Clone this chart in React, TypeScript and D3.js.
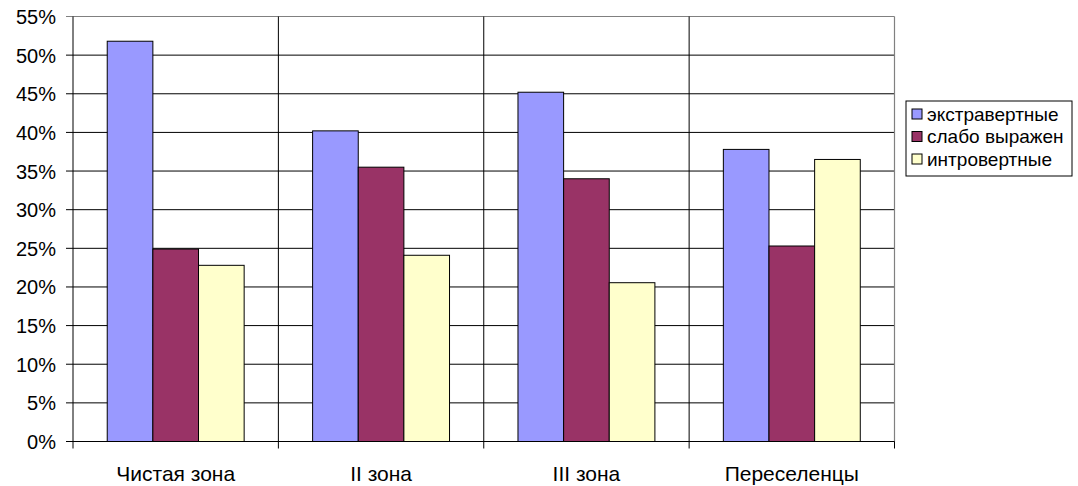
import React from "react";
import * as d3 from "d3";

const categories = ["Чистая зона", "II зона", "III зона", "Переселенцы"];
const seriesNames = ["экстравертные", "слабо выражен", "интровертные"];
const seriesColors = ["#9999FF", "#993366", "#FFFFCC"];
const extraverts = [51.8, 40.2, 45.2, 37.8];
const weak = [24.9, 35.5, 34.0, 25.3];
const introverts = [22.8, 24.1, 20.55, 36.5];
const yTicks = [0, 5, 10, 15, 20, 25, 30, 35, 40, 45, 50, 55];

const W = 1078;
const H = 486;
const left = 73;
const right = 894.5;
const top = 16.5;
const bottom = 441.5;

export default function App() {
  const series = [extraverts, weak, introverts];
  const x = d3.scaleBand<string>().domain(categories).range([left, right]).paddingInner(0).paddingOuter(0);
  const y = d3.scaleLinear().domain([0, 55]).range([bottom, top]);
  const bw = x.bandwidth() / 4.5;
  const font = "'Liberation Sans', Arial, sans-serif";

  return (
    <svg width={W} height={H} style={{ position: "absolute", left: 0, top: 0, background: "#fff" }}>
      <rect x={0} y={0} width={W} height={H} fill="#fff" />
      {yTicks.map((t) => (
        <line key={"g" + t} x1={left - 7} x2={right} y1={y(t)} y2={y(t)} stroke={t === 55 ? "#808080" : "#000"} strokeWidth={1} />
      ))}
      {categories.map((c, i) =>
        i > 0 ? (
          <line key={"v" + c} x1={x(c)!} x2={x(c)!} y1={top} y2={bottom + 7} stroke="#000" strokeWidth={1} />
        ) : null
      )}
      <line x1={left} x2={left} y1={top} y2={bottom + 7} stroke="#000" strokeWidth={1} />
      <line x1={right} x2={right} y1={top} y2={bottom} stroke="#808080" strokeWidth={1.2} />
      <line x1={right} x2={right} y1={bottom} y2={bottom + 7} stroke="#000" strokeWidth={1} />
      {categories.map((c, i) =>
        series.map((s, j) => {
          const bx = x(c)! + bw * 0.75 + j * bw;
          return (
            <rect
              key={c + j}
              x={bx}
              y={y(s[i])}
              width={bw}
              height={bottom - y(s[i])}
              fill={seriesColors[j]}
              stroke="#000"
              strokeWidth={1}
            />
          );
        })
      )}
      <line x1={left - 7} x2={right} y1={bottom} y2={bottom} stroke="#000" strokeWidth={1} />
      {yTicks.map((t) => (
        <text key={"yl" + t} x={56} y={y(t) + 7.5} textAnchor="end" fontFamily={font} fontSize={20} fill="#000">
          {t + "%"}
        </text>
      ))}
      {categories.map((c) => (
        <text key={"xl" + c} x={x(c)! + x.bandwidth() / 2} y={481} textAnchor="middle" fontFamily={font} fontSize={21} fill="#000">
          {c}
        </text>
      ))}
      <rect x={906} y={101} width={166} height={75} fill="#fff" stroke="#000" strokeWidth={1} />
      {seriesNames.map((n, j) => (
        <g key={n}>
          <rect x={912} y={109 + j * 22.5} width={10} height={10} fill={seriesColors[j]} stroke="#000" strokeWidth={1} />
          <text x={927} y={120.5 + j * 22.5} fontFamily={font} fontSize={19} fill="#000">
            {n}
          </text>
        </g>
      ))}
    </svg>
  );
}
